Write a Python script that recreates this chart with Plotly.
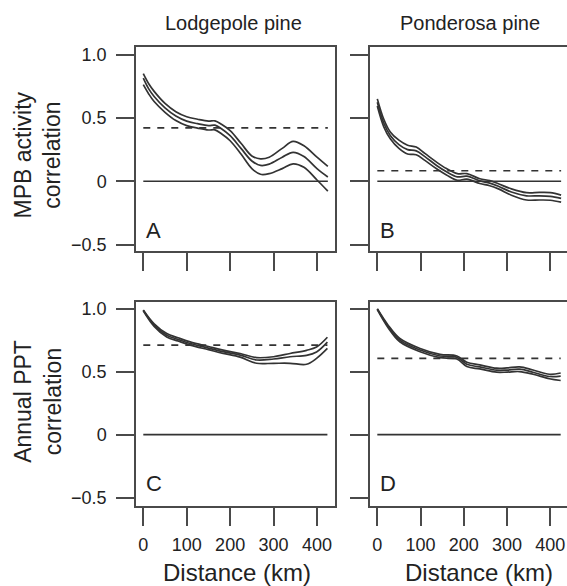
import plotly.graph_objects as go

W, H = 567, 586

# ---------------- data ----------------
dist_A = [0, 12.5, 25, 50, 75, 100, 125, 150, 165, 180, 200, 225, 250, 270, 290, 320, 345, 370, 400, 425]
A_upper = [0.85, 0.77, 0.71, 0.615, 0.55, 0.51, 0.49, 0.475, 0.477, 0.45, 0.40, 0.30, 0.20, 0.177, 0.19, 0.26, 0.315, 0.28, 0.19, 0.117]
A_mean = [0.815, 0.73, 0.67, 0.58, 0.515, 0.475, 0.455, 0.44, 0.443, 0.415, 0.36, 0.26, 0.16, 0.125, 0.135, 0.19, 0.229, 0.195, 0.10, 0.034]
A_lower = [0.763, 0.69, 0.63, 0.545, 0.48, 0.44, 0.42, 0.405, 0.406, 0.375, 0.32, 0.215, 0.10, 0.055, 0.06, 0.10, 0.138, 0.11, 0.01, -0.078]
A_ref = 0.422

dist_B = [0, 15, 30, 50, 70, 90, 110, 137, 160, 185, 207, 237, 260, 280, 310, 345, 375, 400, 425]
B_upper = [0.651, 0.49, 0.39, 0.325, 0.285, 0.27, 0.22, 0.151, 0.10, 0.06, 0.06, 0.02, 0.005, -0.02, -0.06, -0.09, -0.088, -0.09, -0.11]
B_mean = [0.625, 0.46, 0.362, 0.29, 0.25, 0.24, 0.195, 0.125, 0.075, 0.035, 0.04, 0.003, -0.015, -0.04, -0.085, -0.115, -0.115, -0.12, -0.135]
B_lower = [0.594, 0.43, 0.336, 0.26, 0.215, 0.21, 0.165, 0.099, 0.05, 0.008, 0.017, -0.018, -0.035, -0.06, -0.11, -0.148, -0.148, -0.15, -0.165]
B_ref = 0.083

dist_C = [0, 25, 54, 80, 108, 150, 184, 223, 261, 300, 338, 376, 399, 424]
C_upper = [0.99, 0.88, 0.803, 0.77, 0.737, 0.70, 0.671, 0.645, 0.612, 0.619, 0.645, 0.67, 0.696, 0.774]
C_mean = [0.987, 0.87, 0.79, 0.757, 0.724, 0.688, 0.659, 0.632, 0.593, 0.601, 0.619, 0.63, 0.657, 0.735]
C_lower = [0.984, 0.86, 0.776, 0.744, 0.711, 0.675, 0.646, 0.616, 0.567, 0.567, 0.567, 0.559, 0.606, 0.685]
C_ref = 0.711

dist_D = [0, 25, 52, 99, 145, 184, 207, 237, 276, 300, 329, 360, 398, 424]
D_upper = [1.0, 0.87, 0.764, 0.685, 0.638, 0.625, 0.575, 0.554, 0.528, 0.53, 0.538, 0.514, 0.48, 0.49]
D_mean = [0.997, 0.86, 0.751, 0.672, 0.625, 0.614, 0.559, 0.538, 0.512, 0.513, 0.520, 0.496, 0.462, 0.465]
D_lower = [0.994, 0.85, 0.738, 0.659, 0.612, 0.601, 0.541, 0.522, 0.496, 0.497, 0.501, 0.480, 0.444, 0.43]
D_ref = 0.606

x_ticks = [0, 100, 200, 300, 400]
x_ticktext = ["0", "100", "200", "300", "400"]
y_ticks = [1.0, 0.5, 0, -0.5]
y_ticktext = ["1.0", "0.5", "0", "\u22120.5"]

col_titles = ["Lodgepole pine", "Ponderosa pine"]
row_titles = ["MPB activity<br>correlation", "Annual PPT<br>correlation"]
x_title = "Distance (km)"
panel_letters = ["A", "B", "C", "D"]

# ---------------- figure ----------------
FONT = "Liberation Sans, Arial, Helvetica, sans-serif"
LINE = "#333333"
BOX = "#4a4a4a"

fig = go.Figure()

panels = [
    ("x", "y", dist_A, A_upper, A_mean, A_lower, A_ref),
    ("x2", "y2", dist_B, B_upper, B_mean, B_lower, B_ref),
    ("x3", "y3", dist_C, C_upper, C_mean, C_lower, C_ref),
    ("x4", "y4", dist_D, D_upper, D_mean, D_lower, D_ref),
]

for xa, ya, d, up, mn, lo, ref in panels:
    dmax = d[-1]
    fig.add_trace(go.Scatter(x=[0, dmax], y=[0, 0], mode="lines", xaxis=xa, yaxis=ya,
                             line=dict(color=LINE, width=1.7), showlegend=False, hoverinfo="skip"))
    fig.add_trace(go.Scatter(x=[0, dmax], y=[ref, ref], mode="lines", xaxis=xa, yaxis=ya,
                             line=dict(color=LINE, width=1.7, dash="7px,7px"), showlegend=False, hoverinfo="skip"))
    for series in (up, mn, lo):
        fig.add_trace(go.Scatter(x=d, y=series, mode="lines", xaxis=xa, yaxis=ya,
                                 line=dict(color=LINE, width=1.7, shape="spline", smoothing=1.0),
                                 showlegend=False, hoverinfo="skip"))

xdomL = [136 / W, 335 / W]
xdomR = [370 / W, 1.0]
ydomT = [1 - 251.7 / H, 1 - 45.7 / H]
ydomB = [1 - 509 / H, 1 - 302.7 / H]

def xaxis(domain, rng, anchor, labels):
    return dict(domain=domain, range=rng, anchor=anchor, showgrid=False, zeroline=False,
                showline=True, mirror=True, linecolor=BOX, linewidth=1.5,
                ticks="outside", ticklen=18, tickwidth=1.5, tickcolor=BOX,
                tickvals=x_ticks, ticktext=x_ticktext, showticklabels=labels,
                ticklabelstandoff=4,
                tickfont=dict(family=FONT, size=18, color="#222"), fixedrange=True)

def yaxis(domain, rng, anchor, labels, mirror):
    return dict(domain=domain, range=rng, anchor=anchor, showgrid=False, zeroline=False,
                showline=True, mirror=mirror, linecolor=BOX, linewidth=1.5,
                ticks="outside", ticklen=18, tickwidth=1.5, tickcolor=BOX,
                tickvals=y_ticks, ticktext=y_ticktext, showticklabels=labels,
                ticklabelstandoff=6,
                tickfont=dict(family=FONT, size=18, color="#222"), fixedrange=True)

xrL = [-16.8, 441.5]
xrR = [-16.9, 438.6]
yrT = [-0.552, 1.059]
yrB = [-0.565, 1.057]

fig.update_layout(
    width=W, height=H, margin=dict(l=0, r=0, t=0, b=0),
    paper_bgcolor="white", plot_bgcolor="white",
    font=dict(family=FONT, color="#222"),
    xaxis=xaxis(xdomL, xrL, "y", False),
    yaxis=yaxis(ydomT, yrT, "x", True, True),
    xaxis2=xaxis(xdomR, xrR, "y2", False),
    yaxis2=yaxis(ydomT, yrT, "x2", False, False),
    xaxis3=xaxis(xdomL, xrL, "y3", True),
    yaxis3=yaxis(ydomB, yrB, "x3", True, True),
    xaxis4=xaxis(xdomR, xrR, "y4", True),
    yaxis4=yaxis(ydomB, yrB, "x4", False, False),
)

ann = []
# column titles
ann.append(dict(text=col_titles[0], x=233 / W, y=1 - 21 / H, xref="paper", yref="paper",
                showarrow=False, xanchor="center", yanchor="middle", font=dict(size=20)))
ann.append(dict(text=col_titles[1], x=469.5 / W, y=1 - 21 / H, xref="paper", yref="paper",
                showarrow=False, xanchor="center", yanchor="middle", font=dict(size=20)))
# row titles
ann.append(dict(text=row_titles[0], x=38 / W, y=1 - 155 / H, xref="paper", yref="paper",
                showarrow=False, textangle=-90, xanchor="center", yanchor="middle", font=dict(size=23)))
ann.append(dict(text=row_titles[1], x=38 / W, y=1 - 404 / H, xref="paper", yref="paper",
                showarrow=False, textangle=-90, xanchor="center", yanchor="middle", font=dict(size=23)))
# x titles
ann.append(dict(text=x_title, x=237 / W, y=1 - 576 / H, xref="paper", yref="paper",
                showarrow=False, xanchor="center", yanchor="middle", font=dict(size=24)))
ann.append(dict(text=x_title, x=479 / W, y=1 - 576 / H, xref="paper", yref="paper",
                showarrow=False, xanchor="center", yanchor="middle", font=dict(size=24)))
# panel letters
for (xr, yr), letter in zip([("x", "y"), ("x2", "y2"), ("x3", "y3"), ("x4", "y4")], panel_letters):
    ann.append(dict(text=letter, x=2, y=-0.5, xref=xr, yref=yr, showarrow=False,
                    xanchor="left", yanchor="bottom", font=dict(size=22)))

fig.update_layout(annotations=ann)

fig.write_html("out.html")
